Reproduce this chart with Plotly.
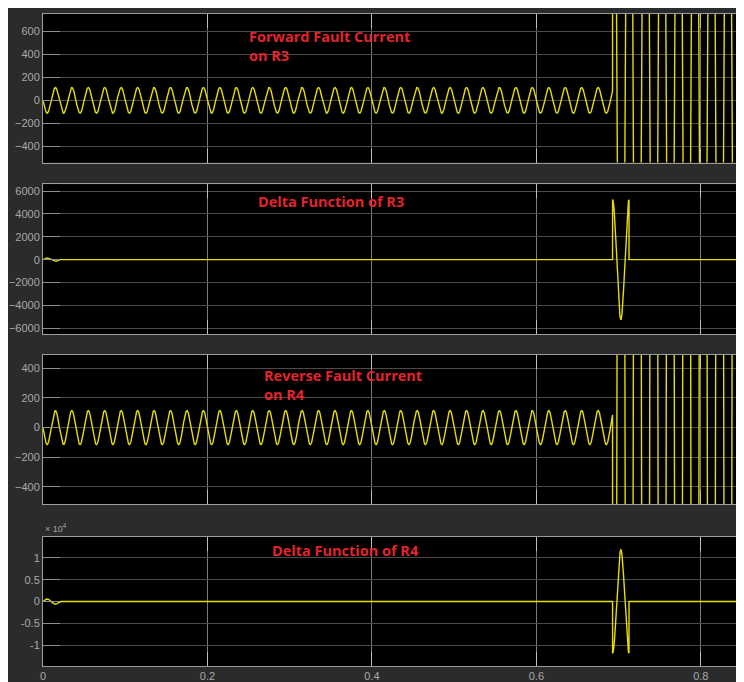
import numpy as np
import plotly.graph_objects as go

# ---------------- data ----------------
x_tick_vals = [0, 0.2, 0.4, 0.6, 0.8]
x_tick_text = ["0", "0.2", "0.4", "0.6", "0.8"]
x_range = [0, 0.8525]

freq_hz = 50.0          # supply frequency (20 ms period)
t_fault = 0.6927        # fault inception time (s)
t_step = 5e-5

# Forward fault current on R3
fwd_pre_amp = 112.0
fwd_post_amp = 5250.0
# Reverse fault current on R4
rev_pre_amp = 115.0
rev_post_amp = 11800.0
# Delta function of R3
d3_start_amp = 150.0
d3_fault_amp = 5250.0
# Delta function of R4
d4_start_amp = 600.0
d4_fault_amp = 11800.0

p1_ticks = [-400, -200, 0, 200, 400, 600]
p1_range = [-540, 750]
p2_ticks = [-6000, -4000, -2000, 0, 2000, 4000, 6000]
p2_range = [-6500, 6600]
p3_ticks = [-400, -200, 0, 200, 400]
p3_range = [-519, 492]
p4_ticks = [-10000, -5000, 0, 5000, 10000]
p4_tick_text = ["-1", "-0.5", "0", "0.5", "1"]
p4_range = [-14700, 14800]

labels = ["Forward Fault Current<br>on R3", "Delta Function of R3",
          "Reverse Fault Current<br>on R4", "Delta Function of R4"]

# ---------------- waveforms ----------------
t = np.arange(0, x_range[1] + t_step, t_step)
w = 2 * np.pi * freq_hz
pre = t < t_fault
win = (t >= t_fault) & (t < t_fault + 1 / freq_hz)
first = t < 1 / freq_hz

fwd = np.where(pre, -fwd_pre_amp * np.sin(w * t), fwd_post_amp * np.cos(w * (t - t_fault)))
rev = np.where(pre, -rev_pre_amp * np.sin(w * t), -rev_post_amp * np.cos(w * (t - t_fault)))
d3 = np.where(first, d3_start_amp * np.sin(w * t), 0.0) + np.where(win, d3_fault_amp * np.cos(w * (t - t_fault)), 0.0)
d4 = np.where(first, d4_start_amp * np.sin(w * t), 0.0) + np.where(win, -d4_fault_amp * np.cos(w * (t - t_fault)), 0.0)

# ---------------- layout geometry (figure pixels; page has an 8px body margin) ----------------
W, H = 736, 674
ML, MT, MB = 35, 6, 14
PW = W - ML
PH = H - MT - MB


def py(pix):  # figure pixel y -> paper y
    return (H - MB - pix) / PH


def px(pix):  # figure pixel x -> paper x
    return (pix - ML) / PW


panels = [(6, 155), (176.7, 327), (347.7, 498), (530.3, 660)]

LINE = "#e6de00"
fig = go.Figure()
series = [fwd, d3, rev, d4]
for i, s in enumerate(series):
    fig.add_trace(go.Scatter(x=t, y=s, mode="lines", line=dict(color=LINE, width=1.4),
                             xaxis="x" if i == 0 else f"x{i+1}",
                             yaxis="y" if i == 0 else f"y{i+1}",
                             showlegend=False, hoverinfo="skip"))

tickfont = dict(family="Liberation Sans, Arial", size=11, color="#a9a9a9")
ticks_list = [(p1_ticks, None, p1_range), (p2_ticks, None, p2_range),
              (p3_ticks, None, p3_range), (p4_ticks, p4_tick_text, p4_range)]

layout = dict(width=W, height=H, margin=dict(l=ML, r=0, t=MT, b=MB),
              paper_bgcolor="#2b2b2b", plot_bgcolor="#000000", showlegend=False)

for i, ((top, bot), (tv, tt, rng)) in enumerate(zip(panels, ticks_list)):
    xa = "xaxis" if i == 0 else f"xaxis{i+1}"
    ya = "yaxis" if i == 0 else f"yaxis{i+1}"
    xid = "x" if i == 0 else f"x{i+1}"
    yid = "y" if i == 0 else f"y{i+1}"
    layout[xa] = dict(domain=[0, 1], anchor=yid, range=x_range, tickvals=x_tick_vals,
                      ticktext=x_tick_text, showticklabels=(i == 3), tickfont=tickfont,
                      showgrid=True, gridcolor="#7c7c7c", gridwidth=1, zeroline=False,
                      showline=True, linecolor="#9c9c9c", linewidth=1, mirror="ticks",
                      ticks="inside", ticklen=14, tickcolor="#bdbdbd", fixedrange=True)
    ydict = dict(domain=[py(bot), py(top)], anchor=xid, range=rng, tickvals=tv,
                 showgrid=True, gridcolor="#4b4b4b", gridwidth=1, zeroline=False,
                 showline=True, linecolor="#9c9c9c", linewidth=1, ticks="inside",
                 ticklen=17, tickcolor="#8e8e8e", tickfont=tickfont, fixedrange=True)
    if tt is not None:
        ydict["ticktext"] = tt
    layout[ya] = ydict

fig.update_layout(**layout)

# red labels (positions in figure pixels)
ann_pos = [(240, 18), (248.5, 184), (255, 358), (263, 534)]
redfont = dict(family="Open Sans", size=14.5, color="#e3242b")
for (xp, yp), txt in zip(ann_pos, labels):
    fig.add_annotation(x=px(xp), y=py(yp), xref="paper", yref="paper", text=f"<b>{txt}</b>",
                       showarrow=False, xanchor="left", yanchor="top", align="left",
                       font=redfont, borderpad=0)

# exponent label for the last panel
fig.add_annotation(x=px(36), y=py(529), xref="paper", yref="paper", text="× 10<sup>4</sup>",
                   showarrow=False, xanchor="left", yanchor="bottom",
                   font=dict(family="Liberation Sans, Arial", size=9, color="#a0a0a0"), borderpad=0)

fig.write_html("out.html")
